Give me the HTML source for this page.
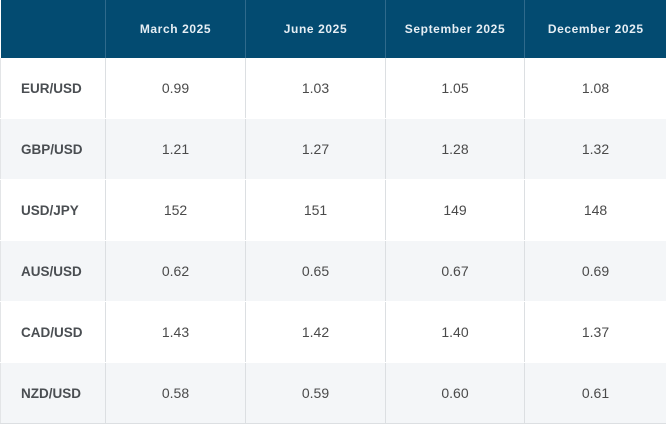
<!DOCTYPE html>
<html><head><meta charset="utf-8"><style>
body{margin:0;width:666px;height:425px;background:#fff;font-family:"Liberation Sans",sans-serif;overflow:hidden}
table{border-collapse:collapse;table-layout:fixed;width:666px;position:absolute;left:0;top:0}
th{background:#034b71;color:#e6eef4;font-size:12px;font-weight:bold;letter-spacing:0.6px;height:58px;padding:0;border-left:1px solid #2f6a8c}
th:first-child{border-left:none}
td{height:60px;padding:0;text-align:center;font-size:14px;color:#4a4a4a;border-left:1px solid #dcdfe2;border-bottom:1px solid #fff}
td:first-child{font-weight:bold;color:#4a4e52;text-align:left;padding-left:20px;font-size:13.5px;border-left:1px solid #e3e5e7}
td:last-child{border-right:1px solid #e3e5e7}
tr:nth-child(even) td{background:#f4f6f8}
tr:last-child td{border-bottom:1px solid #dcdfe2}
</style></head><body>
<table>
<colgroup><col style="width:105px"><col style="width:140px"><col style="width:140px"><col style="width:139px"><col style="width:142px"></colgroup>
<thead><tr>
<th></th>
<th>March 2025</th>
<th>June 2025</th>
<th>September 2025</th>
<th>December 2025</th>
</tr></thead>
<tbody>
<tr><td>EUR/USD</td><td>0.99</td><td>1.03</td><td>1.05</td><td>1.08</td></tr>
<tr><td>GBP/USD</td><td>1.21</td><td>1.27</td><td>1.28</td><td>1.32</td></tr>
<tr><td>USD/JPY</td><td>152</td><td>151</td><td>149</td><td>148</td></tr>
<tr><td>AUS/USD</td><td>0.62</td><td>0.65</td><td>0.67</td><td>0.69</td></tr>
<tr><td>CAD/USD</td><td>1.43</td><td>1.42</td><td>1.40</td><td>1.37</td></tr>
<tr><td>NZD/USD</td><td>0.58</td><td>0.59</td><td>0.60</td><td>0.61</td></tr>
</tbody></table>
</body></html>
